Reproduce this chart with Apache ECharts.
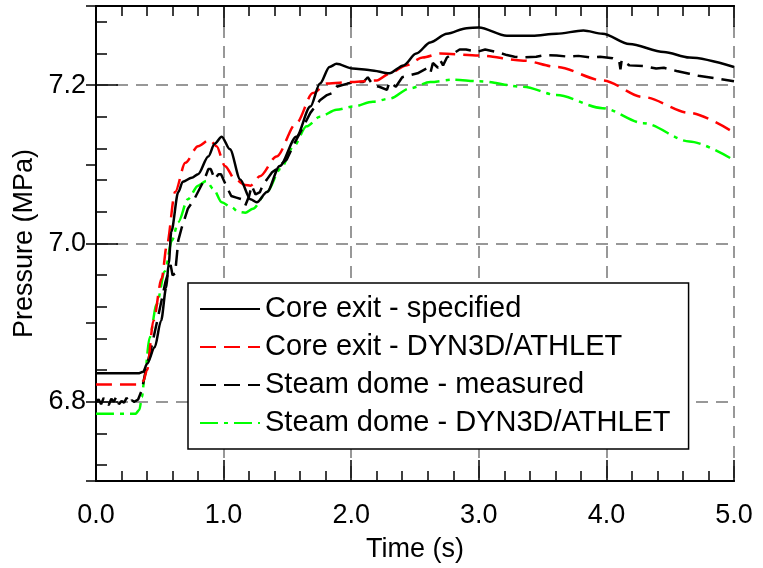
<!DOCTYPE html>
<html>
<head>
<meta charset="utf-8">
<title>Pressure</title>
<script src="https://cdn.jsdelivr.net/npm/echarts@6/dist/echarts.min.js"></script>
<style>
	html, body { margin: 0; padding: 0; background: #fff; }
	#chart { width: 763px; height: 568px; }
</style>
</head>
<body>
<div id="chart"></div>
<script>
// 曲线数据 (time in s, pressure in MPa)
var coreSpecT = [0, 0.33, 0.37, 0.40, 0.46, 0.51, 0.55, 0.57, 0.59, 0.645, 0.68, 0.75, 0.80, 0.88, 0.93, 0.985, 1.05, 1.13, 1.21, 1.26, 1.34, 1.44, 1.57, 1.68, 1.755, 1.83, 1.885, 2.01, 2.15, 2.30, 2.41, 2.51, 2.62, 2.75, 2.905, 3.0, 3.22, 3.42, 3.61, 3.82, 3.97, 4.18, 4.45, 4.65, 5.0];
var coreSpecP = [6.836, 6.836, 6.838, 6.848, 6.869, 6.9025, 6.944, 6.975, 7.015, 7.065, 7.078, 7.083, 7.0875, 7.110, 7.126, 7.135, 7.119, 7.081, 7.056, 7.052, 7.065, 7.098, 7.135, 7.173, 7.202, 7.223, 7.227, 7.221, 7.219, 7.215, 7.225, 7.240, 7.254, 7.265, 7.272, 7.273, 7.2625, 7.2625, 7.265, 7.269, 7.265, 7.252, 7.242, 7.235, 7.223];

var coreCalcT = [0, 0.35, 0.37, 0.40, 0.45, 0.515, 0.555, 0.62, 0.70, 0.80, 0.89, 0.945, 1.01, 1.09, 1.17, 1.21, 1.285, 1.415, 1.57, 1.70, 1.81, 2.01, 2.20, 2.30, 2.43, 2.56, 2.70, 3.0, 3.35, 3.61, 3.97, 4.29, 4.65, 4.97];
var coreCalcP = [6.822, 6.822, 6.826, 6.84, 6.9025, 6.956, 6.998, 7.065, 7.102, 7.123, 7.131, 7.123, 7.098, 7.081, 7.074, 7.073, 7.085, 7.110, 7.152, 7.19, 7.202, 7.204, 7.206, 7.2145, 7.225, 7.235, 7.240, 7.2375, 7.231, 7.223, 7.206, 7.185, 7.165, 7.143];

var domeMeasT = [0.00, 0.02, 0.04, 0.06, 0.08, 0.10, 0.12, 0.14, 0.16, 0.18, 0.20, 0.22, 0.24, 0.26, 0.28, 0.30, 0.33, 0.36, 0.39, 0.44, 0.49, 0.545, 0.585, 0.60, 0.62, 0.645, 0.67, 0.72, 0.77, 0.85, 0.88, 0.90, 0.93, 0.96, 0.98, 1.02, 1.06, 1.10, 1.14, 1.17, 1.20, 1.22, 1.25, 1.285, 1.31, 1.34, 1.38, 1.415, 1.45, 1.495, 1.55, 1.60, 1.68, 1.755, 1.81, 1.85, 1.885, 1.97, 2.03, 2.095, 2.13, 2.17, 2.22, 2.28, 2.30, 2.35, 2.40, 2.46, 2.52, 2.59, 2.62, 2.64, 2.68, 2.70, 2.72, 2.75, 2.80, 2.85, 2.90, 2.985, 3.05, 3.14, 3.18, 3.22, 3.28, 3.35, 3.45, 3.52, 3.61, 3.70, 3.78, 3.87, 3.95, 4.05, 4.10, 4.11, 4.12, 4.18, 4.30, 4.39, 4.45, 4.55, 4.65, 4.72, 4.80, 4.88, 5.0];
var domeMeasP = [6.800, 6.803, 6.797, 6.805, 6.799, 6.796, 6.804, 6.800, 6.807, 6.797, 6.801, 6.799, 6.805, 6.798, 6.802, 6.800, 6.803, 6.815, 6.84, 6.873, 6.91, 6.952, 6.973, 6.96, 6.962, 7.004, 7.019, 7.044, 7.056, 7.081, 7.094, 7.094, 7.081, 7.0875, 7.0875, 7.073, 7.06, 7.058, 7.056, 7.048, 7.06, 7.073, 7.062, 7.065, 7.075, 7.081, 7.09, 7.094, 7.10, 7.106, 7.125, 7.14, 7.165, 7.181, 7.1875, 7.19, 7.198, 7.202, 7.204, 7.204, 7.21, 7.20, 7.198, 7.194, 7.204, 7.198, 7.21, 7.2125, 7.215, 7.221, 7.215, 7.228, 7.222, 7.231, 7.225, 7.235, 7.24, 7.245, 7.245, 7.242, 7.245, 7.242, 7.240, 7.238, 7.236, 7.235, 7.236, 7.238, 7.2375, 7.236, 7.237, 7.235, 7.236, 7.234, 7.231, 7.22, 7.232, 7.225, 7.224, 7.221, 7.222, 7.218, 7.2145, 7.212, 7.210, 7.208, 7.205];

var domeCalcT = [0, 0.31, 0.34, 0.36, 0.38, 0.42, 0.475, 0.54, 0.595, 0.645, 0.72, 0.80, 0.865, 0.92, 0.985, 1.06, 1.115, 1.17, 1.23, 1.34, 1.445, 1.55, 1.65, 1.755, 1.885, 2.015, 2.17, 2.30, 2.46, 2.62, 2.80, 3.0, 3.35, 3.61, 3.97, 4.29, 4.65, 4.97];
var domeCalcP = [6.785, 6.785, 6.790, 6.806, 6.831, 6.881, 6.923, 6.965, 7.004, 7.027, 7.056, 7.073, 7.079, 7.069, 7.052, 7.046, 7.040, 7.039, 7.044, 7.065, 7.094, 7.123, 7.148, 7.16, 7.169, 7.173, 7.179, 7.183, 7.196, 7.204, 7.207, 7.205, 7.198, 7.1875, 7.171, 7.152, 7.129, 7.108];

var seriesNames = ["Core exit - specified", "Core exit - DYN3D/ATHLET", "Steam dome - measured", "Steam dome - DYN3D/ATHLET"];

// 刻度
var yMajorTicks = [6.8, 7.0, 7.2];
var yMinorTicks = [6.72, 6.76, 6.80, 6.84, 6.88, 6.92, 6.96, 7.00, 7.04, 7.08, 7.12, 7.16, 7.20, 7.24, 7.28];
var yRightTicks = [6.7, 6.8, 6.9, 7.0, 7.1, 7.2, 7.3];

var FONT = "'Liberation Sans', Arial, sans-serif";

function zip(t, p) {
	var out = [];
	for (var i = 0; i < t.length; i++) {
		out.push([t[i], p[i]]);
	}
	return out;
}

var myChart = echarts.init(document.getElementById("chart"));

function xAx(pos, interval, len, main) {
	return {
		type: 'value',
		position: pos,
		min: 0,
		max: 5,
		interval: interval,
		name: main ? 'Time (s)' : '',
		nameLocation: 'middle',
		nameGap: 55,
		nameTextStyle: { color: '#000', fontSize: 27, fontFamily: FONT },
		axisLine: { show: true, lineStyle: { color: '#000', width: 2 } },
		axisTick: { show: true, inside: true, length: len, lineStyle: { color: '#000', width: 1.5 } },
		axisLabel: {
			show: main,
			color: '#000',
			fontSize: 27,
			fontFamily: FONT,
			margin: 21,
			formatter: function(v) { return v.toFixed(1); }
		},
		splitLine: {
			show: main,
			lineStyle: { color: '#777', width: 1.5, type: [12, 8] }
		}
	};
}

function yAx(pos, ticks, len, main) {
	return {
		type: 'value',
		position: pos,
		min: 6.7,
		max: 7.3,
		name: main ? 'Pressure (MPa)' : '',
		nameLocation: 'middle',
		nameGap: 50,
		nameTextStyle: { color: '#000', fontSize: 27, fontFamily: FONT },
		axisLine: { show: true, lineStyle: { color: '#000', width: 2 } },
		axisTick: { show: true, inside: true, length: len, customValues: ticks, lineStyle: { color: '#000', width: 1.5 } },
		axisLabel: {
			show: main,
			customValues: ticks,
			color: '#000',
			fontSize: 27,
			fontFamily: FONT,
			margin: 10,
			formatter: function(v) { return v.toFixed(1); }
		},
		splitLine: {
			show: main,
			lineStyle: { color: '#777', width: 1.5, type: [12, 8] }
		}
	};
}

var option = {
	animation: false,
	backgroundColor: '#fff',
	grid: { left: 96, right: 29, top: 6, bottom: 85, containLabel: false },
	xAxis: [
		xAx('bottom', 1, 21, true),
		xAx('bottom', 0.2, 10, false),
		xAx('top', 1, 21, false),
		xAx('top', 0.2, 10, false)
	],
	yAxis: [
		yAx('left', yMajorTicks, 22, true),
		yAx('left', yMinorTicks, 11, false),
		yAx('right', yRightTicks, 10, false)
	],
	legend: {
		orient: 'vertical',
		left: 188,
		top: 283,
		data: seriesNames,
		backgroundColor: '#fff',
		borderColor: '#000',
		borderWidth: 1.5,
		padding: [11, 18, 11, 11],
		itemGap: 8,
		itemWidth: 60,
		itemHeight: 14,
		itemStyle: { color: 'transparent', borderWidth: 0, opacity: 0 },
		textStyle: { color: '#000', fontSize: 29, fontFamily: FONT, lineHeight: 30 }
	},
	series: [{
		name: seriesNames[0],
		type: 'line',
		data: zip(coreSpecT, coreSpecP),
		showSymbol: false,
		symbol: 'none',
		smooth: 0.3,
		smoothMonotone: 'x',
		z: 5,
		lineStyle: { color: '#000', width: 2.5, type: 'solid' },
		itemStyle: { color: '#000' }
	}, {
		name: seriesNames[1],
		type: 'line',
		data: zip(coreCalcT, coreCalcP),
		showSymbol: false,
		symbol: 'none',
		smooth: 0.3,
		smoothMonotone: 'x',
		z: 4,
		lineStyle: { color: '#ff0000', width: 2.5, type: [16, 8] },
		itemStyle: { color: '#ff0000' }
	}, {
		name: seriesNames[2],
		type: 'line',
		data: zip(domeMeasT, domeMeasP),
		showSymbol: false,
		symbol: 'none',
		z: 3,
		lineStyle: { color: '#000', width: 2.5, type: [16, 8] },
		itemStyle: { color: '#000' }
	}, {
		name: seriesNames[3],
		type: 'line',
		data: zip(domeCalcT, domeCalcP),
		showSymbol: false,
		symbol: 'none',
		smooth: 0.3,
		smoothMonotone: 'x',
		z: 2,
		lineStyle: { color: '#00ff00', width: 2.5, type: [18, 6, 4, 6] },
		itemStyle: { color: '#00ff00' }
	}]
};
myChart.setOption(option);
</script>
</body>
</html>
